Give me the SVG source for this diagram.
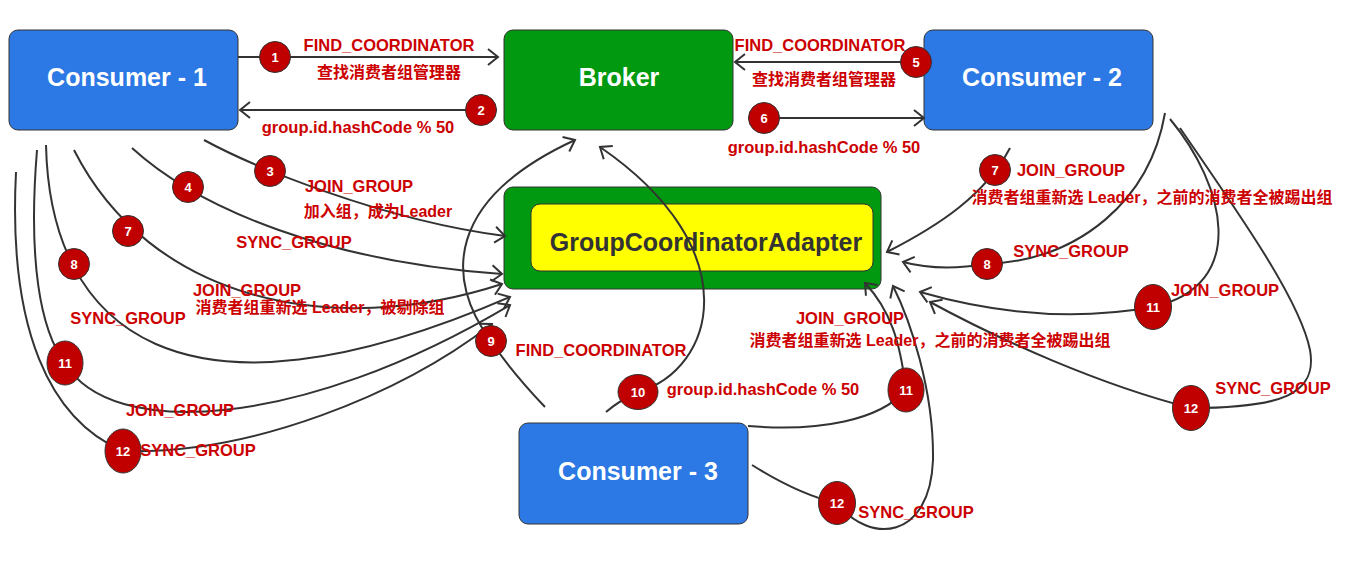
<svg xmlns="http://www.w3.org/2000/svg" width="1358" height="574" viewBox="0 0 1358 574">
<defs>
<marker id="arr" markerUnits="userSpaceOnUse" markerWidth="14" markerHeight="20" refX="11" refY="9" orient="auto" viewBox="0 0 14 20">
<path d="M1,1 L11,9 L1,17" fill="none" stroke="#333" stroke-width="2"/>
</marker>
<style>
.box{stroke:#333;stroke-width:1}
.blue{fill:#2c78e4}
.green{fill:#00990f}
.yellow{fill:#ffff00}
.title{font-family:"Liberation Sans","Noto Sans",sans-serif;font-weight:bold;font-size:25px;fill:#fff;text-anchor:middle}
.dark{fill:#333}
.lbl{font-family:"Liberation Sans","Noto Sans CJK SC",sans-serif;font-weight:bold;font-size:16.5px;fill:#cc0000;text-anchor:middle}
.cn{font-family:"Liberation Sans","Noto Sans CJK SC",sans-serif;font-weight:bold;font-size:16px;fill:#cc0000;text-anchor:middle}
.badge{fill:#c00000;stroke:#333;stroke-width:1}
.num{font-family:"Liberation Sans",sans-serif;font-weight:bold;font-size:13px;fill:#fff;text-anchor:middle}
.c{fill:none;stroke:#333;stroke-width:2}
</style>
</defs>
<rect width="1358" height="574" fill="#fff"/>

<g id="consumer1">
<rect class="box blue" x="9" y="30" width="229" height="100" rx="9"/>
<text class="title" x="127" y="86">Consumer - 1</text>
</g>
<g id="broker">
<rect class="box green" x="504" y="30" width="229" height="100" rx="9"/>
<text class="title" x="619" y="86">Broker</text>
</g>
<g id="consumer2">
<rect class="box blue" x="924" y="30" width="229" height="100" rx="9"/>
<text class="title" x="1042" y="86">Consumer - 2</text>
</g>
<g id="adapter">
<rect class="box green" x="504" y="187" width="377" height="102" rx="9"/>
<rect class="box yellow" x="531" y="204" width="342" height="67" rx="9"/>
<text class="title dark" x="706" y="251">GroupCoordinatorAdapter</text>
</g>
<g id="consumer3">
<rect class="box blue" x="519" y="423" width="229" height="101" rx="9"/>
<text class="title" x="638" y="480">Consumer - 3</text>
</g>

<g id="connectors">
<path class="c" d="M238,57 L498,57" marker-end="url(#arr)"/>
<path class="c" d="M497,110 L240,110" marker-end="url(#arr)"/>
<path class="c" d="M924,62 L735,62" marker-end="url(#arr)"/>
<path class="c" d="M748,118 L924,118" marker-end="url(#arr)"/>
<path class="c" d="M204,140 C250,165 380,220 505,236" marker-end="url(#arr)"/>
<path class="c" d="M132,148 C200,210 330,262 502,274" marker-end="url(#arr)"/>
<path class="c" d="M74,150 C150,300 330,340 502,284" marker-end="url(#arr)"/>
<path class="c" d="M46,145 C50,330 180,440 510,297" marker-end="url(#arr)"/>
<path class="c" d="M37,150 C28,260 40,330 65,363 C110,440 300,430 510,305" marker-end="url(#arr)"/>
<path class="c" d="M16,172 C8,330 50,420 123,451 C250,455 400,395 492,324" marker-end="url(#arr)"/>
<path class="c" d="M545,407 Q510,370 491,341 C445,280 445,200 575,140" marker-end="url(#arr)"/>
<path class="c" d="M606,412 Q620,400 638,392 C715,370 750,250 600,147" marker-end="url(#arr)"/>
<path class="c" d="M748,426 C820,432 880,420 906,390 C900,340 890,310 865,283" marker-end="url(#arr)"/>
<path class="c" d="M752,465 Q800,495 837,503 C870,545 930,540 933,460 C934,390 910,320 893,286" marker-end="url(#arr)"/>
<path class="c" d="M1010,148 C985,195 940,225 887,252" marker-end="url(#arr)"/>
<path class="c" d="M1165,113 C1150,200 1080,260 987,264 C950,270 925,268 903,262" marker-end="url(#arr)"/>
<path class="c" d="M1170,119 C1225,185 1250,285 1153,307 C1080,320 1000,315 920,292" marker-end="url(#arr)"/>
<path class="c" d="M1180,128 C1240,215 1300,300 1310,350 C1318,395 1280,408 1191,408 C1100,385 1000,340 930,302" marker-end="url(#arr)"/>
</g>

<g id="labels">
<text class="lbl" x="389" y="51">FIND_COORDINATOR</text>
<text class="cn" x="389" y="78">查找消费者组管理器</text>
<text class="lbl" x="358" y="133">group.id.hashCode % 50</text>
<text class="lbl" x="820" y="51">FIND_COORDINATOR</text>
<text class="cn" x="824" y="85">查找消费者组管理器</text>
<text class="lbl" x="824" y="153">group.id.hashCode % 50</text>
<text class="lbl" x="359" y="192">JOIN_GROUP</text>
<text class="cn" x="378" y="217">加入组，成为Leader</text>
<text class="lbl" x="294" y="248">SYNC_GROUP</text>
<text class="lbl" x="247" y="296">JOIN_GROUP</text>
<text class="cn" x="320" y="313">消费者组重新选 Leader，被剔除组</text>
<text class="lbl" x="128" y="324">SYNC_GROUP</text>
<text class="lbl" x="180" y="416">JOIN_GROUP</text>
<text class="lbl" x="198" y="456">SYNC_GROUP</text>
<text class="lbl" x="601" y="356">FIND_COORDINATOR</text>
<text class="lbl" x="763" y="395">group.id.hashCode % 50</text>
<text class="lbl" x="850" y="324">JOIN_GROUP</text>
<text class="cn" x="930" y="346">消费者组重新选 Leader，之前的消费者全被踢出组</text>
<text class="lbl" x="1071" y="176">JOIN_GROUP</text>
<text class="cn" x="1152" y="203">消费者组重新选 Leader，之前的消费者全被踢出组</text>
<text class="lbl" x="1071" y="257">SYNC_GROUP</text>
<text class="lbl" x="1225" y="296">JOIN_GROUP</text>
<text class="lbl" x="1273" y="394">SYNC_GROUP</text>
<text class="lbl" x="916" y="518">SYNC_GROUP</text>
</g>

<g id="badges">
<g id="b1"><circle class="badge" cx="275" cy="57" r="15.5"/><text class="num" x="275" y="62">1</text></g>
<g id="b2"><circle class="badge" cx="481" cy="110" r="15.5"/><text class="num" x="481" y="115">2</text></g>
<g id="b3"><circle class="badge" cx="270" cy="171" r="15.5"/><text class="num" x="270" y="176">3</text></g>
<g id="b4"><circle class="badge" cx="188" cy="187" r="15.5"/><text class="num" x="188" y="192">4</text></g>
<g id="b5"><circle class="badge" cx="916" cy="62" r="15.5"/><text class="num" x="916" y="67">5</text></g>
<g id="b6"><circle class="badge" cx="764" cy="118" r="15.5"/><text class="num" x="764" y="123">6</text></g>
<g id="b7l"><circle class="badge" cx="128" cy="231" r="15.5"/><text class="num" x="128" y="236">7</text></g>
<g id="b8l"><circle class="badge" cx="74" cy="264" r="15.5"/><text class="num" x="74" y="269">8</text></g>
<g id="b11l"><ellipse class="badge" cx="65" cy="363" rx="18" ry="22"/><text class="num" x="65" y="368">11</text></g>
<g id="b12l"><ellipse class="badge" cx="123" cy="451" rx="18" ry="22"/><text class="num" x="123" y="456">12</text></g>
<g id="b7r"><circle class="badge" cx="995" cy="170" r="15.5"/><text class="num" x="995" y="175">7</text></g>
<g id="b8r"><circle class="badge" cx="987" cy="264" r="15.5"/><text class="num" x="987" y="269">8</text></g>
<g id="b11r"><ellipse class="badge" cx="1153" cy="307" rx="18.5" ry="22.5"/><text class="num" x="1153" y="312">11</text></g>
<g id="b12r"><ellipse class="badge" cx="1191" cy="408" rx="18.5" ry="22.5"/><text class="num" x="1191" y="413">12</text></g>
<g id="b9"><circle class="badge" cx="491" cy="341" r="15.5"/><text class="num" x="491" y="346">9</text></g>
<g id="b10"><ellipse class="badge" cx="638" cy="392" rx="20" ry="17.5"/><text class="num" x="638" y="397">10</text></g>
<g id="b11b"><ellipse class="badge" cx="906" cy="390" rx="18" ry="22"/><text class="num" x="906" y="395">11</text></g>
<g id="b12b"><ellipse class="badge" cx="837" cy="503" rx="18.5" ry="21.5"/><text class="num" x="837" y="508">12</text></g>
</g>
</svg>
